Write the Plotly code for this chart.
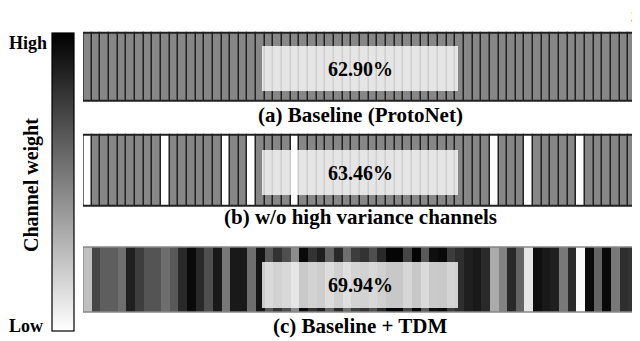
"""
Channel weight strips: ProtoNet baseline, pruned channels, and TDM re-weighting
"""
import plotly.graph_objects as go

# --- data ---
channels = list(range(64))

# (a) baseline: all channels share the same weight
baseline_weight = 0.47
weights_a = [baseline_weight] * 64

# (b) high-variance channels removed (weight 0)
removed_channels = [0, 9, 16, 19, 24, 47, 51, 57]
weights_b = [0.0 if c in removed_channels else baseline_weight for c in channels]

# (c) TDM channel weights (0 = low / white, 1 = high / black)
weights_c = [0.25, 0.73, 0.63, 0.63, 0.57, 0.88, 0.76, 0.67, 0.67, 0.57, 0.65, 0.84, 0.96, 0.84, 0.69, 0.90,
             0.53, 0.90, 0.90, 0.57, 0.92, 0.65, 0.80, 0.69, 0.45, 0.96, 0.80, 0.88, 0.61, 0.84, 0.57, 0.76,
             0.80, 0.69, 0.84, 0.98, 0.98, 0.73, 0.98, 0.65, 0.94, 0.96, 0.76, 0.82, 0.88, 0.90, 0.84, 0.33,
             0.49, 0.84, 0.61, 0.10, 0.94, 0.90, 0.88, 0.53, 0.84, 0.02, 0.96, 0.61, 0.96, 0.53, 0.82, 0.80]

labels = ["(a) Baseline (ProtoNet)", "(b) w/o high variance channels", "(c) Baseline + TDM"]
accuracies = ["62.90%", "63.46%", "69.94%"]

# --- layout constants ---
# the page body adds an 8px margin, so the figure is drawn 8px smaller and shifted
PAD = 8
W, H = 640 - PAD, 341 - PAD


def px(x):
    # page pixel x -> paper fraction
    return (x - PAD) / W


strips = [  # (bottom, top, label_y, box_bottom, box_top), y measured as 341 - page pixel
    (240, 308, 226, 250, 295),
    (135, 206, 124, 146, 191),
    (29, 94, 15, 33, 79),
]
colorscale = [[0, "white"], [1, "black"]]
serif = "Liberation Serif"

fig = go.Figure()

for i, (weights, (y0, y1, _, _, _)) in enumerate(zip([weights_a, weights_b, weights_c], strips)):
    is_c = i == 2
    fig.add_trace(go.Bar(
        x=channels,
        y=[y1 - y0] * len(channels),
        base=y0,
        width=1,
        marker=dict(
            color=weights,
            colorscale=colorscale,
            cmin=0, cmax=1,
            line=dict(color="#222222", width=0 if is_c else 1.3),
            showscale=(i == 0),
            colorbar=dict(
                x=px(52), xanchor="left",
                y=308 / H, yanchor="top",
                len=298, lenmode="pixels",
                thickness=22, thicknessmode="pixels",
                xpad=0, ypad=0,
                outlinecolor="black", outlinewidth=1.2,
                showticklabels=False, ticks="",
            ) if i == 0 else None,
        ),
        hoverinfo="skip",
        showlegend=False,
    ))

for i, (y0, y1, ly, b0, b1) in enumerate(strips):
    # strip outline
    fig.add_shape(type="rect", xref="x", yref="y", x0=-0.5, x1=63.5, y0=y0, y1=y1,
                  line=dict(color="#888888" if i == 2 else "#222222", width=1.3))
    # translucent accuracy box
    fig.add_shape(type="rect", xref="paper", yref="y", x0=px(262), x1=px(458), y0=b0, y1=b1,
                  fillcolor="rgba(255,255,255,0.78)", line=dict(width=0), layer="above")
    fig.add_annotation(x=px(360), xref="paper", y=(b0 + b1) / 2, yref="y", text=f"<b>{accuracies[i]}</b>",
                       showarrow=False, font=dict(family=serif, size=20, color="black"))
    fig.add_annotation(x=px(360), xref="paper", y=ly, yref="y", text=f"<b>{labels[i]}</b>",
                       showarrow=False, font=dict(family=serif, size=21, color="black"))

# colorbar labels
fig.add_annotation(x=0, xref="paper", xanchor="left", y=298, yref="y", text="<b>High</b>",
                   showarrow=False, borderpad=0, font=dict(family=serif, size=18, color="black"))
fig.add_annotation(x=0, xref="paper", xanchor="left", y=15, yref="y", text="<b>Low</b>",
                   showarrow=False, borderpad=0, font=dict(family=serif, size=18, color="black"))
fig.add_annotation(x=px(31), xref="paper", xanchor="center", y=156, yref="y", text="<b>Channel weight</b>",
                   showarrow=False, borderpad=0, textangle=-90, font=dict(family=serif, size=20, color="black"))
# page number (cut by the page corner in the source)
fig.add_annotation(x=px(634), xref="paper", xanchor="center", y=H - 1, yref="y", yanchor="top", text="3",
                   showarrow=False, borderpad=0, font=dict(family=serif, size=14, color="black"))

fig.update_layout(
    width=W, height=H,
    margin=dict(l=0, r=0, t=0, b=0),
    barmode="overlay",
    bargap=0,
    plot_bgcolor="white",
    paper_bgcolor="white",
    xaxis=dict(domain=[px(83), px(637)], range=[-0.5, 63.5], visible=False),
    yaxis=dict(range=[0, H], visible=False),
)

fig.write_html("out.html")
